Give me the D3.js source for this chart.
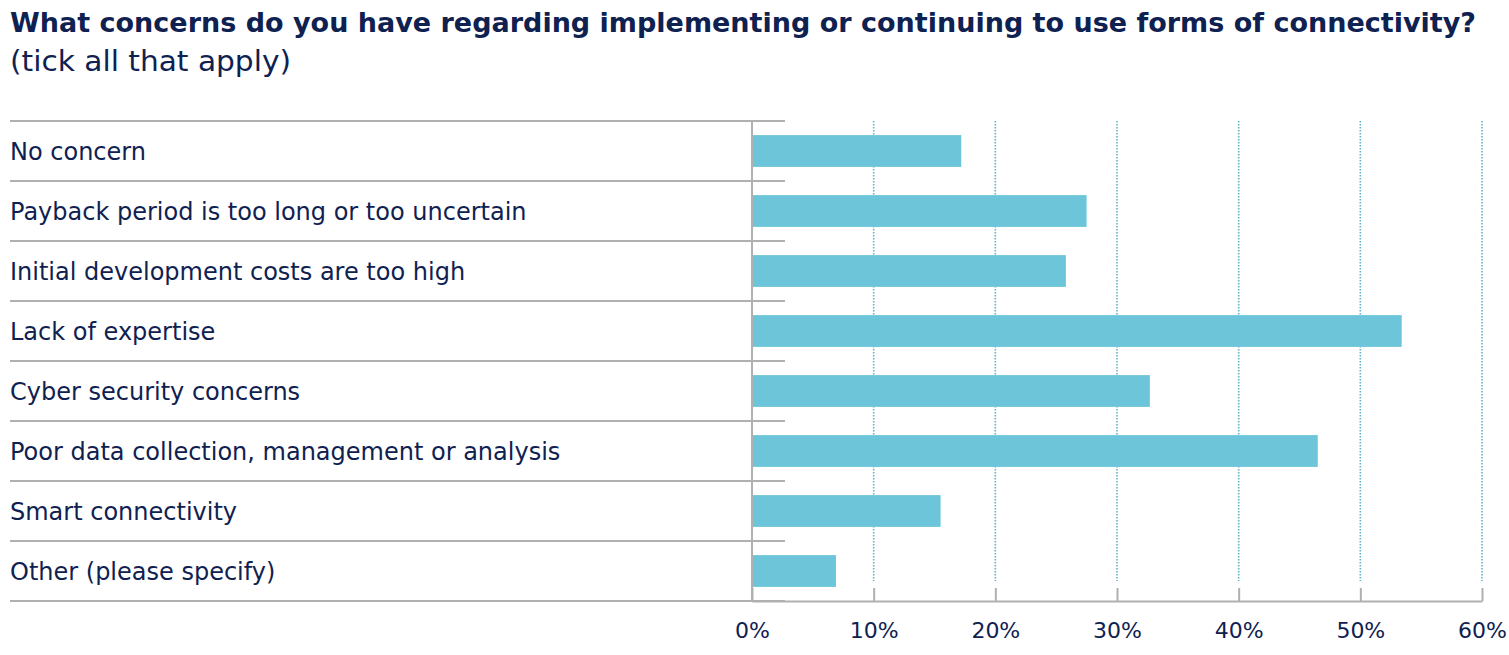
<!DOCTYPE html>
<html>
<head>
<meta charset="utf-8">
<script src="https://cdn.jsdelivr.net/npm/d3@7"></script>
<style>
  body { margin: 0; background: #fff; }
  svg text { font-family: "DejaVu Sans", "Noto Sans", sans-serif; fill: #0f2150; }
</style>
</head>
<body>
<svg id="chart" width="1509" height="655"></svg>
<script>
const categories = [
  'No concern',
  'Payback period is too long or too uncertain',
  'Initial development costs are too high',
  'Lack of expertise',
  'Cyber security concerns',
  'Poor data collection, management or analysis',
  'Smart connectivity',
  'Other (please specify)'
];
const values = [0.172, 0.275, 0.258, 0.534, 0.327, 0.465, 0.155, 0.069];
const tickValues = [0, 0.1, 0.2, 0.3, 0.4, 0.5, 0.6];
const title = 'What concerns do you have regarding implementing or continuing to use forms of connectivity?';
const subtitle = '(tick all that apply)';

(function() {
  const svg = d3.select('#chart');
  const left = 752, right = 1482, top = 121, bottom = 601;

  const x = d3.scaleLinear().domain([0, 0.6]).range([left, right]);
  const y = d3.scaleBand().domain(categories).range([top, bottom]).paddingInner(0.47).paddingOuter(0.235);
  const row = d3.scaleBand().domain(categories).range([top, bottom]);

  svg.append('text')
    .attr('x', 10).attr('y', 32)
    .attr('font-size', 27).attr('font-weight', 900)
    .attr('font-family', 'Lato, sans-serif')
    .attr('textLength', 1466).attr('lengthAdjust', 'spacingAndGlyphs')
    .text(title);
  svg.append('text')
    .attr('x', 10).attr('y', 71)
    .attr('font-size', 28)
    .attr('textLength', 281).attr('lengthAdjust', 'spacingAndGlyphs')
    .text(subtitle);

  // dotted grid
  svg.append('g').selectAll('line')
    .data(tickValues.slice(1))
    .enter().append('line')
    .attr('x1', d => x(d)).attr('x2', d => x(d))
    .attr('y1', top).attr('y2', bottom - 20)
    .attr('stroke', '#62b2c8').attr('stroke-width', 1.6)
    .attr('stroke-dasharray', '1.6,1.4');

  // row separators
  const edges = categories.map(c => row(c)).concat([bottom]);
  svg.append('g').selectAll('line')
    .data(edges)
    .enter().append('line')
    .attr('x1', 10).attr('x2', 785)
    .attr('y1', d => d).attr('y2', d => d)
    .attr('stroke', '#b0b0b0').attr('stroke-width', 2);

  // bars
  svg.append('g').selectAll('rect')
    .data(values)
    .enter().append('rect')
    .attr('x', x(0))
    .attr('y', (d, i) => y(categories[i]))
    .attr('width', d => x(d) - x(0))
    .attr('height', y.bandwidth())
    .attr('fill', '#6cc5d9');

  // labels
  svg.append('g').selectAll('text')
    .data(categories)
    .enter().append('text')
    .attr('x', 10)
    .attr('y', d => row(d) + row.bandwidth() / 2)
    .attr('dy', '0.36em')
    .attr('font-size', 24)
    .text(d => d);

  // vertical axis line
  svg.append('line')
    .attr('x1', left).attr('x2', left)
    .attr('y1', top).attr('y2', bottom)
    .attr('stroke', '#b0b0b0').attr('stroke-width', 2);

  // bottom axis
  const axis = svg.append('g')
    .attr('transform', `translate(0,${bottom})`)
    .call(d3.axisBottom(x).tickValues(tickValues).tickFormat(d3.format('.0%')).tickSizeInner(-13).tickSizeOuter(0).tickPadding(24));
  axis.select('.domain').attr('stroke', '#b0b0b0').attr('stroke-width', 2);
  axis.selectAll('.tick line').attr('stroke', '#b0b0b0').attr('stroke-width', 2);
  axis.selectAll('.tick text')
    .attr('font-size', 22).attr('font-family', '"DejaVu Sans", sans-serif').attr('fill', '#0f2150')
    .attr('y', 21).attr('dy', '0.71em');
})();
</script>
</body>
</html>
